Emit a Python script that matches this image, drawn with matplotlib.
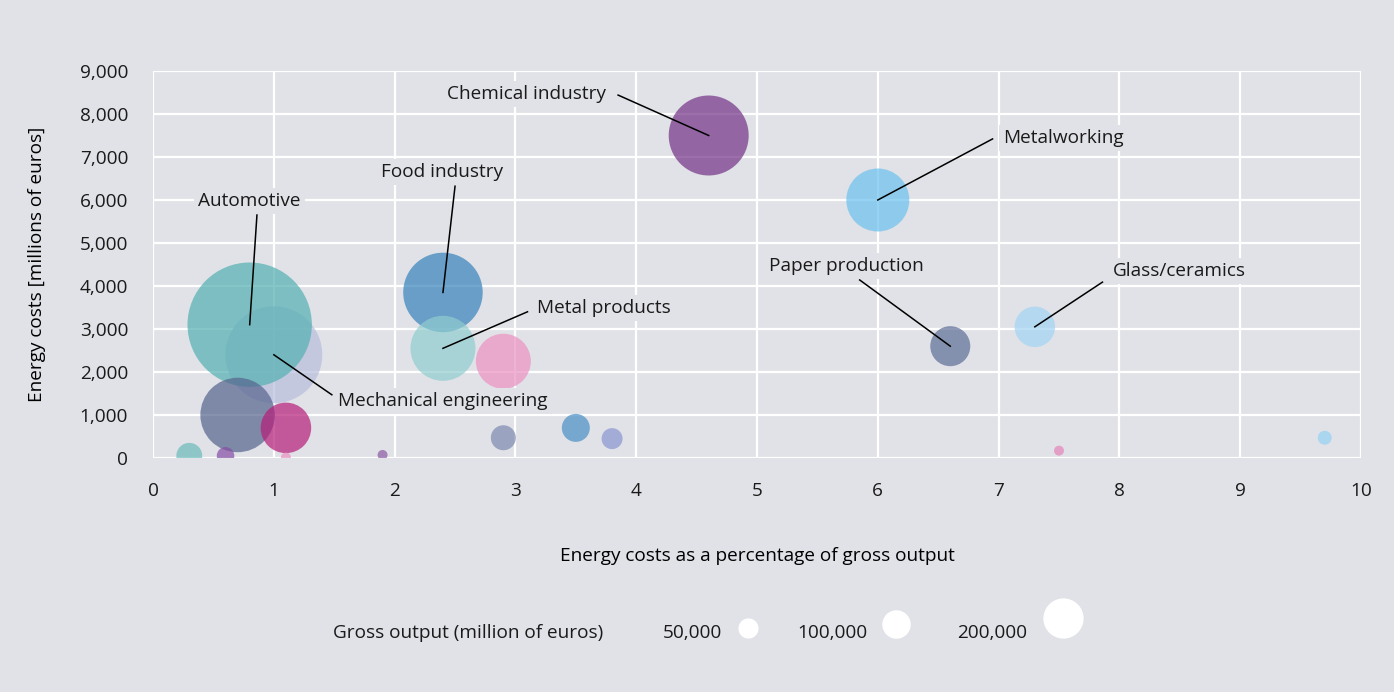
import numpy as np
import matplotlib.pyplot as plt

# ###########################################################
# Data
# ###########################################################

# share of energy costs in gross output (%) and energy costs (million EUR)
share = [1.0, 0.8, 0.7, 1.1, 0.3, 0.6, 1.1, 1.9,
         2.4, 2.4, 2.9, 4.6, 6.0, 6.6, 7.3,
         2.9, 3.5, 3.8, 7.5, 9.7]
energy = [2400, 3100, 1000, 700, 50, 50, 10, 70,
          3850, 2550, 2250, 7500, 6000, 2600, 3050,
          470, 700, 450, 170, 470]
# gross output (million EUR), drives bubble area
gross = [1160000, 1910000, 685000, 315000, 83000, 38000, 12300, 12300,
         780000, 522000, 373000, 790000, 490000, 197500, 202500,
         77200, 96800, 54400, 12300, 24200]
colors = ["#b9bedd", "#52b0b1", "#55648d", "#b51d79", "#6bbbbc", "#844da4", "#eb8fc1", "#8b5aa4",
          "#3782bb", "#90cdcf", "#eb91c1", "#733287", "#6ac1ee", "#5b6d96", "#a2d4f4",
          "#7c89ae", "#478ec6", "#8895cf", "#e484b8", "#95d1f4"]

# labelled sectors: (name, bubble index, text position, leader start)
labels = [
    ("Chemical industry", 11, (3.09, 8460), (3.85, 8440)),
    ("Metalworking", 12, (7.54, 7440), (6.95, 7420)),
    ("Food industry", 8, (2.39, 6650), (2.50, 6320)),
    ("Automotive", 1, (0.795, 5980), (0.86, 5650)),
    ("Metal products", 9, (3.73, 3490), (3.10, 3400)),
    ("Mechanical engineering", 0, (2.40, 1330), (1.48, 1470)),
    ("Paper production", 13, (5.74, 4465), (5.85, 4140)),
    ("Glass/ceramics", 14, (8.50, 4350), (7.86, 4090)),
]

legend_values = [50000, 100000, 200000]
legend_text = ["50,000", "100,000", "200,000"]

xticks = np.arange(0, 11, 1)
yticks = np.arange(0, 9001, 1000)

# ###########################################################
# Style
# ###########################################################

BG = "#e1e2e7"
DPI = 100
FS = 13.7
plt.rcParams["font.family"] = ["Open Sans", "DejaVu Sans"]
plt.rcParams["font.size"] = FS
plt.rcParams["text.color"] = "#1a1a1a"


def bubble_size(v):
    # marker area in pt^2, diameter in px grows with sqrt of gross output
    d_px = 0.09 * np.sqrt(np.asarray(v, dtype=float))
    return (d_px * 72.0 / DPI) ** 2


# ###########################################################
# Figure
# ###########################################################

fig = plt.figure(figsize=(13.94, 6.92), dpi=DPI, facecolor=BG)
ax = fig.add_axes([0.1098, 0.3382, 0.8665, 0.5592], facecolor=BG)

ax.scatter(share, energy, s=bubble_size(gross), c=colors, alpha=0.7,
           linewidths=0, zorder=3)

for name, i, txt, start in labels:
    ax.plot([start[0], share[i]], [start[1], energy[i]], color="black",
            lw=1.1, zorder=4)
    ax.text(txt[0], txt[1], name, ha="center", va="center", fontsize=FS,
            zorder=5, bbox=dict(facecolor=BG, edgecolor="none", pad=3))

ax.set_xlim(0, 10)
ax.set_ylim(0, 9000)
ax.set_xticks(xticks)
ax.set_yticks(yticks)
ax.set_yticklabels([f"{v:,}" for v in yticks])
ax.tick_params(length=0, labelsize=FS, colors="#1a1a1a")
ax.tick_params(axis="x", pad=17)
ax.tick_params(axis="y", pad=18)
ax.grid(True, color="white", lw=1.6, zorder=1)
ax.set_axisbelow(True)
for sp in ax.spines.values():
    sp.set_visible(False)

ax.set_xlabel("Energy costs as a percentage of gross output", fontsize=FS,
              labelpad=34)
ax.set_ylabel("Energy costs [millions of euros]", fontsize=FS, labelpad=24)

# size legend, laid out in pixel coordinates of the figure
lax = fig.add_axes([0, 0, 1, 1], facecolor="none")
lax.set_xlim(0, 1394)
lax.set_ylim(692, 0)
lax.axis("off")
lax.text(333, 633, "Gross output (million of euros)", ha="left", va="center",
         fontsize=FS)
text_right = [722, 867, 1027]
circle_x = [748, 896, 1063]
for v, t, tx, cx in zip(legend_values, legend_text, text_right, circle_x):
    d = 0.09 * np.sqrt(v)
    lax.scatter([cx], [638 - d / 2], s=bubble_size(v), color="white",
                linewidths=0)
    lax.text(tx, 633, t, ha="right", va="center", fontsize=FS)

fig.savefig("out.png", dpi=DPI, facecolor=BG)
